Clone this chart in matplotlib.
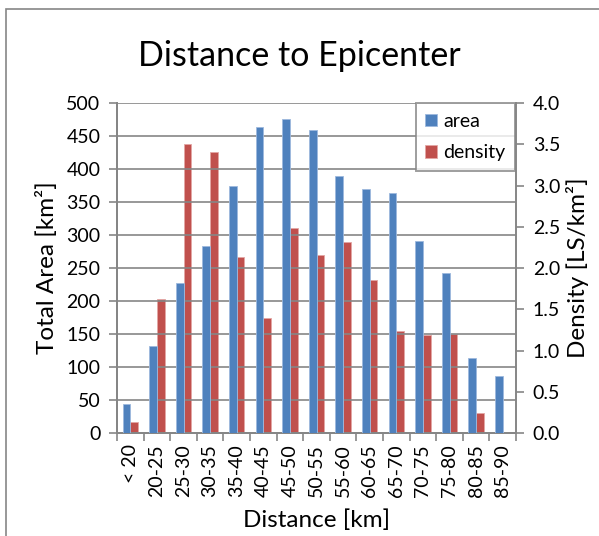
import matplotlib.pyplot as plt
import matplotlib.patches as mpatches
import numpy as np

plt.rcParams['font.family'] = ['Lato', 'DejaVu Sans']

categories = ['< 20', '20-25', '25-30', '30-35', '35-40', '40-45', '45-50', '50-55',
              '55-60', '60-65', '65-70', '70-75', '75-80', '80-85', '85-90']
area = [44, 132, 228, 284, 375, 464, 476, 459, 390, 369, 364, 291, 242, 114, 87]
density = [0.13, 1.63, 3.50, 3.41, 2.13, 1.40, 2.49, 2.16, 2.32, 1.86, 1.24, 1.19, 1.20, 0.24, 0.0]

blue = '#4F81BD'
red = '#C0504D'
grid_col = '#868686'

fig = plt.figure(figsize=(5.99, 5.36), dpi=100)
ax = fig.add_axes([117 / 599, 1 - 433 / 536, (516 - 117) / 599, (433 - 103) / 536])
ax2 = ax.twinx()

x = np.arange(len(categories))
w = 0.29
b1 = ax.bar(x - w / 2, area, w, color=blue, edgecolor='#9DB9DE', linewidth=0.6, label='area', zorder=3)
b2 = ax2.bar(x + w / 2, density, w, color=red, edgecolor='#E3A6A4', linewidth=0.6, label='density', zorder=3)

ax.set_xlim(-0.5, len(categories) - 0.5)
ax.set_ylim(0, 500)
ax2.set_ylim(0, 4.0)
ax.set_yticks(np.arange(0, 501, 50))
ax2.set_yticks(np.arange(0, 4.01, 0.5))
ax2.set_yticklabels([f'{v:.1f}' for v in np.arange(0, 4.01, 0.5)])

ax.yaxis.grid(True, color=grid_col, linewidth=1.2, zorder=0)
ax.set_axisbelow(True)

# category ticks sit between the groups, labels in the middle
ax.set_xticks(np.arange(-0.5, len(categories), 1.0))
ax.set_xticklabels([])
ax.set_xticks(x, minor=True)
ax.set_xticklabels(categories, minor=True, rotation=90, fontsize=14)
ax.tick_params(axis='x', which='minor', length=0, pad=8)
ax.tick_params(axis='x', which='major', length=6, width=1.2, color=grid_col, direction='out')
ax.tick_params(axis='y', length=6, width=1.2, color=grid_col, labelsize=14, pad=6)
ax2.tick_params(axis='y', length=6, width=1.2, color=grid_col, labelsize=14, pad=6)

for a in (ax, ax2):
    a.spines['top'].set_visible(False)
    for s in ('left', 'right', 'bottom'):
        a.spines[s].set_color(grid_col)
        a.spines[s].set_linewidth(1.4)
ax.spines['right'].set_visible(False)

ax.set_ylabel('Total Area [km²]', fontsize=17.5, labelpad=6)
ax2.set_ylabel('Density [LS/km²]', fontsize=17.5, labelpad=4)
ax.set_xlabel('Distance [km]', fontsize=17.5, labelpad=9)
fig.suptitle('Distance to Epicenter', fontsize=24.5, y=0.925)

leg = ax.legend(handles=[b1, b2], loc='upper right', bbox_to_anchor=(0.997, 1.0),
                fontsize=14, frameon=True, fancybox=False, handlelength=0.6,
                handleheight=0.6, handletextpad=0.3, borderpad=0.5, labelspacing=0.75,
                borderaxespad=0)
leg.get_frame().set_edgecolor(grid_col)
leg.get_frame().set_linewidth(1.4)
leg.set_zorder(5)
ax.set_zorder(ax2.get_zorder() + 1)
ax.patch.set_visible(False)

# outer chart border
fig.patches.append(mpatches.Rectangle((6 / 599, -0.1), 1.2, 1 - 9 / 536 + 0.1,
                                      transform=fig.transFigure, fill=False,
                                      edgecolor=grid_col, linewidth=1.2))

fig.savefig('out.png', dpi=100)
